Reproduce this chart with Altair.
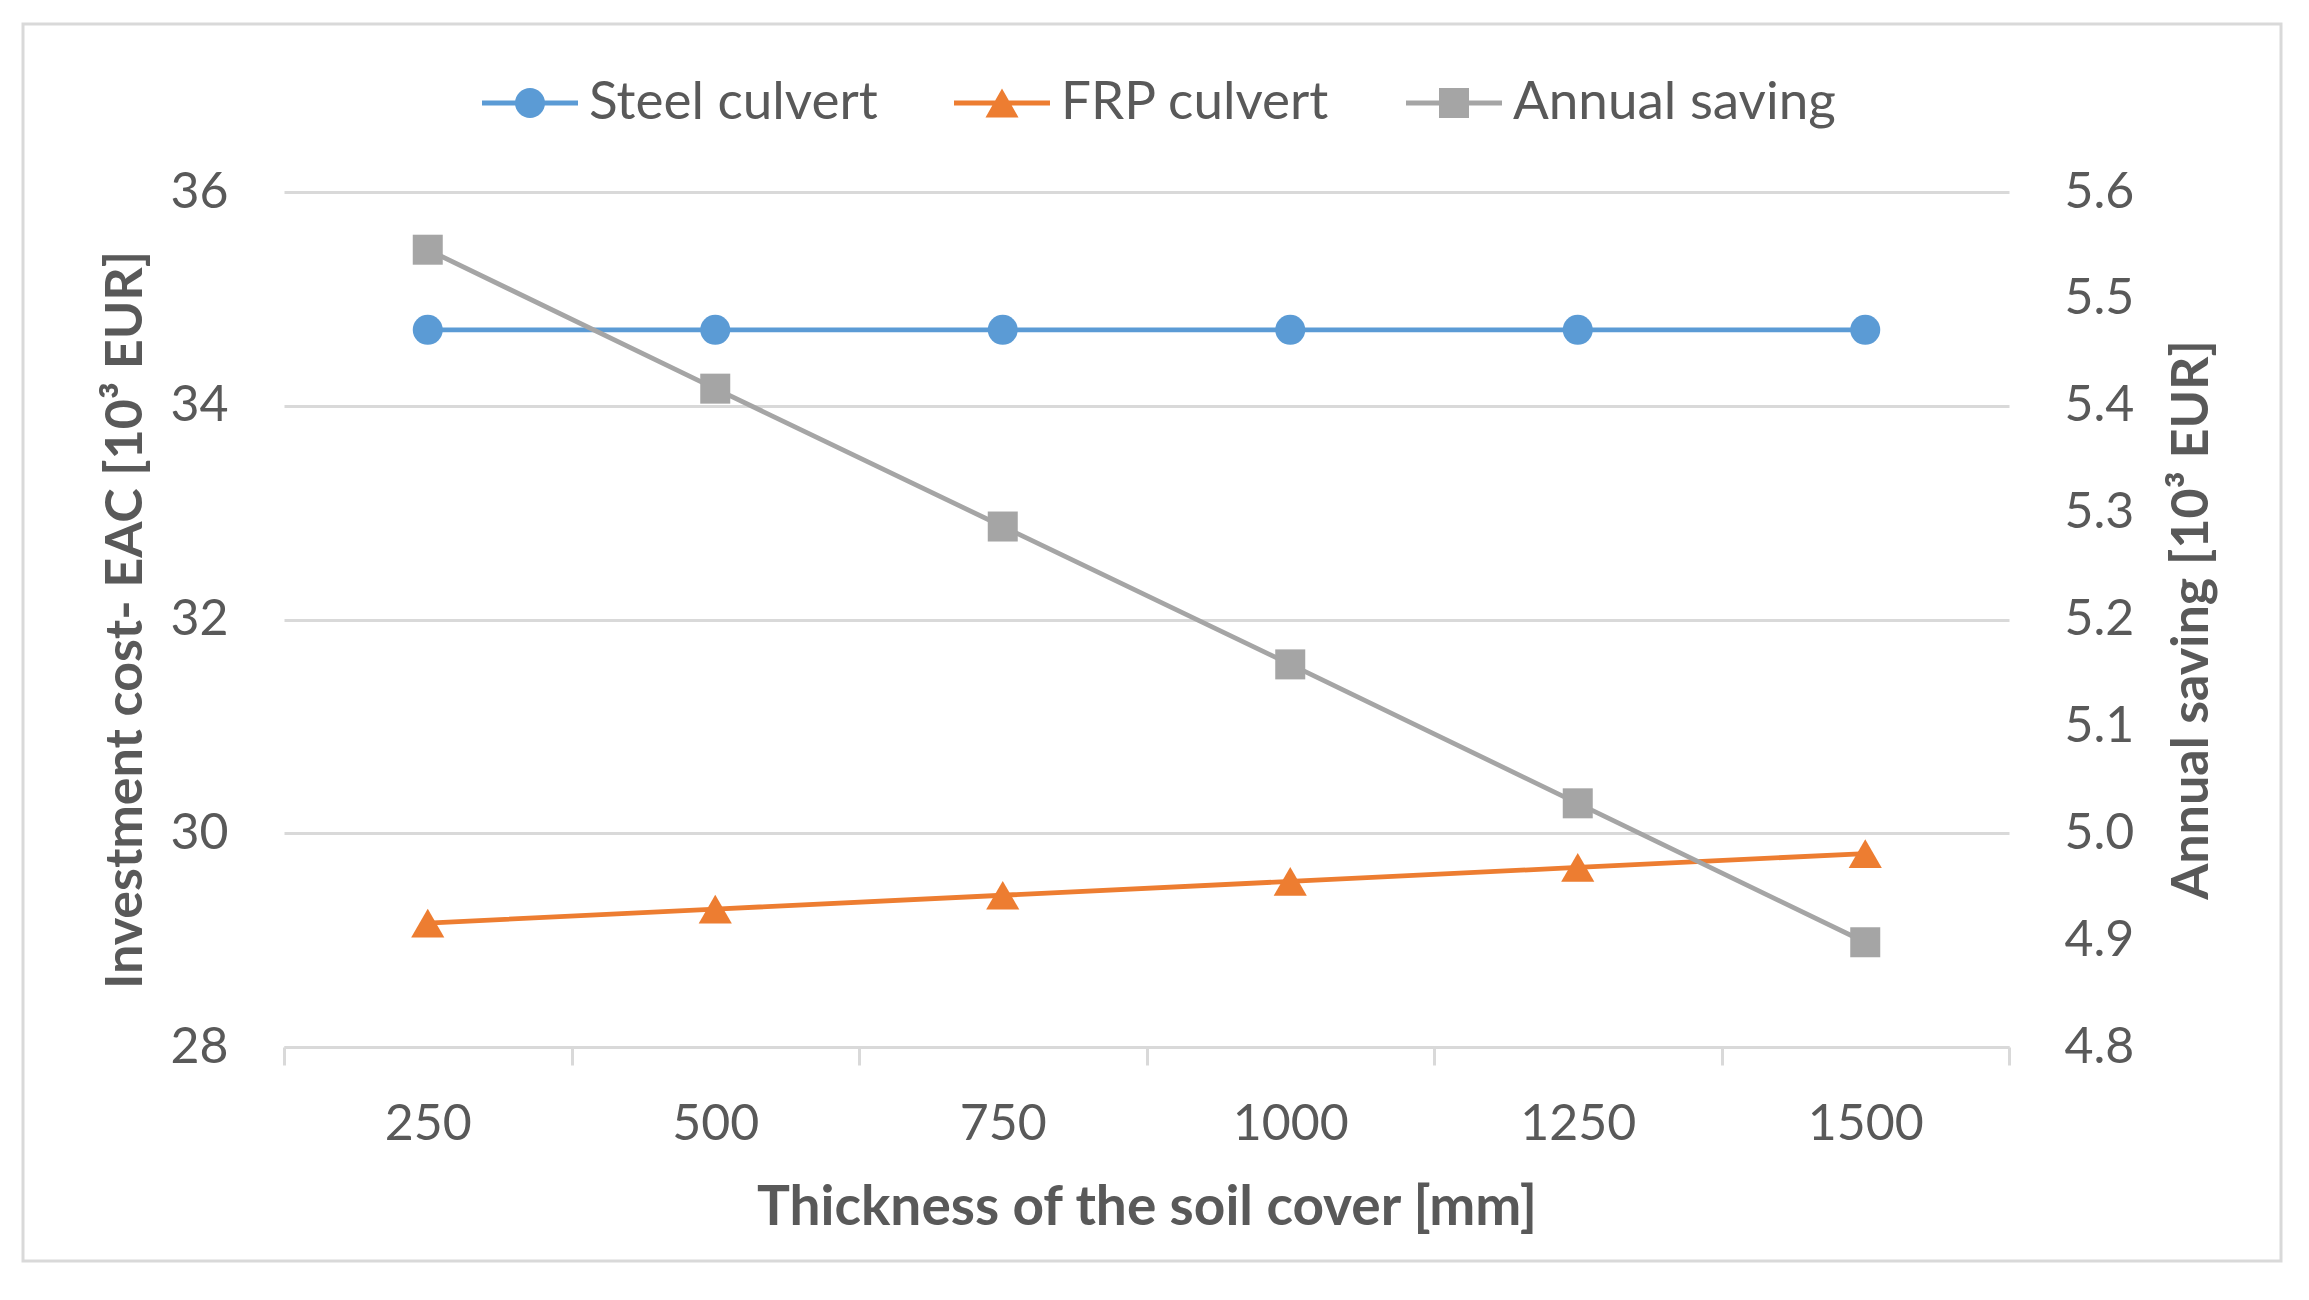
import math
import altair as alt
import pandas as pd

# ---------------- data ----------------
thickness = [250, 500, 750, 1000, 1250, 1500]
steel = [34.71, 34.71, 34.71, 34.71, 34.71, 34.71]
frp = [29.16, 29.29, 29.42, 29.55, 29.68, 29.81]
saving = [5.546, 5.416, 5.287, 5.158, 5.028, 4.898]
series_names = ["Steel culvert", "FRP culvert", "Annual saving"]
series_colors = ["#5B9BD5", "#ED7D31", "#A5A5A5"]
x_tick_values = [125, 250, 375, 500, 625, 750, 875, 1000, 1125, 1250, 1375, 1500, 1625]
left_ticks = [28, 30, 32, 34, 36]
right_ticks = [4.8, 4.9, 5.0, 5.1, 5.2, 5.3, 5.4, 5.5, 5.6]

df = pd.DataFrame({
    "thickness": thickness * 3,
    "series": [series_names[0]] * 6 + [series_names[1]] * 6 + [series_names[2]] * 6,
    "value": steel + frp + saving,
})

TXT = "#595959"
GRID = "#D9D9D9"
FONT = "Lato"
W, H = 1725, 855


def legend_path(kind):
    t = 0.05
    bar = f"M-1,{-t}L1,{-t}L1,{t}L-1,{t}Z"
    if kind == "circle":
        r = 0.3125
        pts = [(r * math.cos(2 * math.pi * k / 32), r * math.sin(2 * math.pi * k / 32)) for k in range(32)]
    elif kind == "triangle":
        pts = [(0, -0.3), (0.344, 0.3), (-0.344, 0.3)]
    else:
        s = 0.3125
        pts = [(-s, -s), (s, -s), (s, s), (-s, s)]
    return bar + "M" + "L".join(f"{x:.4f},{y:.4f}" for x, y in pts) + "Z"


legend_shapes = [legend_path("circle"), legend_path("triangle"), legend_path("square")]

x_enc = alt.X(
    "thickness:Q",
    scale=alt.Scale(domain=[125, 1625], nice=False, zero=False),
    axis=alt.Axis(
        values=x_tick_values,
        format="d",
        labelExpr="datum.value % 250 == 0 ? datum.label : ''",
        title="Thickness of the soil cover [mm]",
        grid=False,
        domainColor=GRID, domainWidth=3,
        tickColor=GRID, tickWidth=3, tickSize=18,
        tickOpacity={"condition": {"test": "datum.value % 250 != 0", "value": 1}, "value": 0},
        labelFont=FONT, labelFontSize=50, labelColor=TXT,
        labelBaseline="alphabetic", labelPadding=74,
        titleFont=FONT, titleFontSize=55, titleFontWeight="bold", titleColor=TXT,
        titleX=W / 2, titleY=177, titleBaseline="alphabetic", titleAlign="center",
    ),
)

y_left = alt.Y(
    "value:Q",
    scale=alt.Scale(domain=[28, 36], nice=False, zero=False),
    axis=alt.Axis(
        orient="left", values=left_ticks, format="d",
        domain=False, ticks=False, grid=True, gridColor=GRID, gridWidth=3,
        labelFont=FONT, labelFontSize=50, labelColor=TXT, labelPadding=56,
        title="Investment cost- EAC [10³ EUR]",
        titleFont=FONT, titleFontSize=52, titleFontWeight="bold", titleColor=TXT,
        titleAngle=270, titleX=-159, titleY=H / 2, titleAlign="center", titleBaseline="middle",
    ),
)

y_right = alt.Y(
    "value:Q",
    scale=alt.Scale(domain=[4.8, 5.6], nice=False, zero=False),
    axis=alt.Axis(
        orient="right", values=right_ticks, format=".1f",
        domain=False, ticks=False, grid=False,
        labelFont=FONT, labelFontSize=50, labelColor=TXT, labelPadding=55,
        title="Annual saving [10³ EUR]",
        titleFont=FONT, titleFontSize=52, titleFontWeight="bold", titleColor=TXT,
        titleAngle=270, titleX=182, titleY=H / 2, titleAlign="center", titleBaseline="middle",
    ),
)


def series_layers(name, color, shape, size, y_enc):
    base = alt.Chart(df).transform_filter(alt.datum.series == name)
    line = base.mark_line(color=color, strokeWidth=4.8).encode(x=x_enc, y=y_enc)
    pts = base.mark_point(filled=True, color=color, opacity=1, shape=shape, size=size, strokeWidth=0).encode(x=x_enc, y=y_enc)
    return [line, pts]


left = alt.layer(
    *series_layers(series_names[0], series_colors[0], "circle", 900, y_left),
    *series_layers(series_names[1], series_colors[1], "triangle-up", 1100, y_left),
)
right = alt.layer(*series_layers(series_names[2], series_colors[2], "square", 900, y_right))

leg = alt.Legend(
    orient="none", legendX=198, legendY=-137, direction="horizontal", title=None,
    symbolSize=9216, symbolStrokeWidth=0, symbolOpacity=1,
    labelFont=FONT, labelFontSize=53, labelColor=TXT, labelOffset=11, columnPadding=76,
    labelLimit=800,
)

legend_layer = alt.Chart(df).transform_filter("false").mark_point(filled=True, opacity=1).encode(
    color=alt.Color("series:N", scale=alt.Scale(domain=series_names, range=series_colors), legend=leg),
    shape=alt.Shape("series:N", scale=alt.Scale(domain=series_names, range=legend_shapes), legend=leg),
)

frame = alt.Chart(pd.DataFrame({"f": [0]})).mark_rect(fillOpacity=0, stroke=GRID, strokeWidth=3).encode(
    x=alt.value(-261), x2=alt.value(1997), y=alt.value(-168), y2=alt.value(1069)
)

chart = alt.layer(frame, left, right, legend_layer).resolve_scale(y="independent").properties(
    width=W, height=H,
    autosize=alt.AutoSizeParams(type="none"),
    padding={"left": 276, "top": 184, "right": 280, "bottom": 235},
).configure(font=FONT).configure_view(stroke="transparent")

chart.save("out.html", embed_options={"renderer": "svg", "actions": False})
